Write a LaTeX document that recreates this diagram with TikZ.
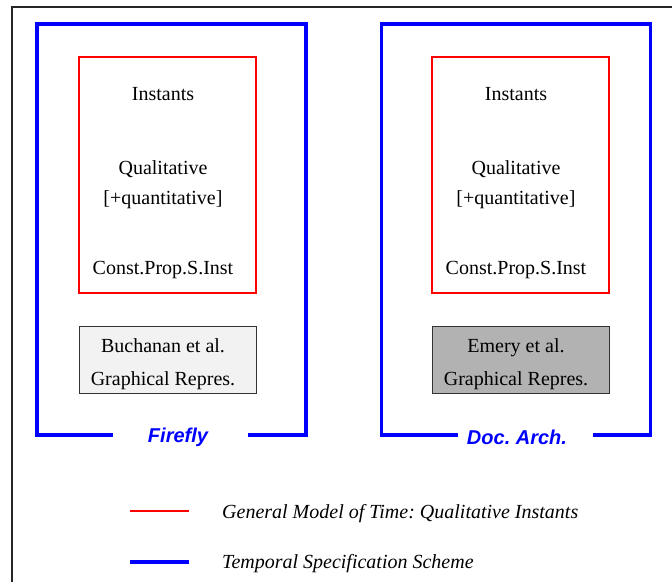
\documentclass[tikz,border=0pt]{standalone}
\usepackage{fontspec}
\setmainfont{Liberation Serif}
\newfontfamily\labelfont{Liberation Sans}
\usetikzlibrary{positioning}
\frenchspacing

\tikzset{
  scheme/.style={blue,line width=3.5},
  model/.style={draw=red,line width=1.3,minimum width=177,minimum height=236,inner sep=0},
  repr/.style={draw=black!80,line width=0.8,minimum width=177,minimum height=67,inner sep=0},
  txt/.style={align=center,inner sep=0}
}

\begin{document}
\begin{tikzpicture}[x=1pt,y=-1pt,font=\fontsize{20}{24}\selectfont]
    \useasboundingbox (0,0) rectangle (672,582);
    \draw[black!85,line width=1.2] (12,582) -- (12,7) -- (672,7);
    \foreach \i/\bx/\ix/\nx/\name/\who/\shade in {1/0/0/178/Firefly/Buchanan/gray!10,2/344.5/353/517/Doc. Arch./Emery/gray!60} {
      \draw[scheme] (113+\bx,435) -- (37+\bx,435) -- (37+\bx,24) -- (306+\bx,24) -- (306+\bx,435) -- (248+\bx,435);
      \node[blue,inner sep=0,font=\fontsize{20}{24}\labelfont\bfseries\itshape] (name\i) at (\nx,437) {\name};
      \node[model] (model\i) at (167.5+\ix,175) {};
      \node[txt] (inst\i) at (163+\ix,94) {Instants};
      \node[txt,font=\fontsize{20}{30}\selectfont] (qual\i) at (163+\ix,185) {Qualitative\\{}[+quantitative]};
      \node[txt] (prop\i) at (163+\ix,270) {Const.Prop.S.Inst};
      \node[repr,fill=\shade] (repr\i) at (167.5+\ix,359.5) {};
      \node[txt,font=\fontsize{20}{33}\selectfont] (who\i) at (163+\ix,364) {\who\ et al.\\Graphical Repres.};
    }
    \draw[red,line width=1.3] (130,511) -- (189,511);
    \node[anchor=west,inner sep=0,font=\fontsize{20}{24}\selectfont\itshape] (gmt) at (222,514) {General Model of Time: Qualitative Instants};
    \draw[scheme] (130,562) -- (189,562);
    \node[anchor=west,inner sep=0,font=\fontsize{20}{24}\selectfont\itshape] (tss) at (222,564) {Temporal Specification Scheme};
\end{tikzpicture}
\end{document}
